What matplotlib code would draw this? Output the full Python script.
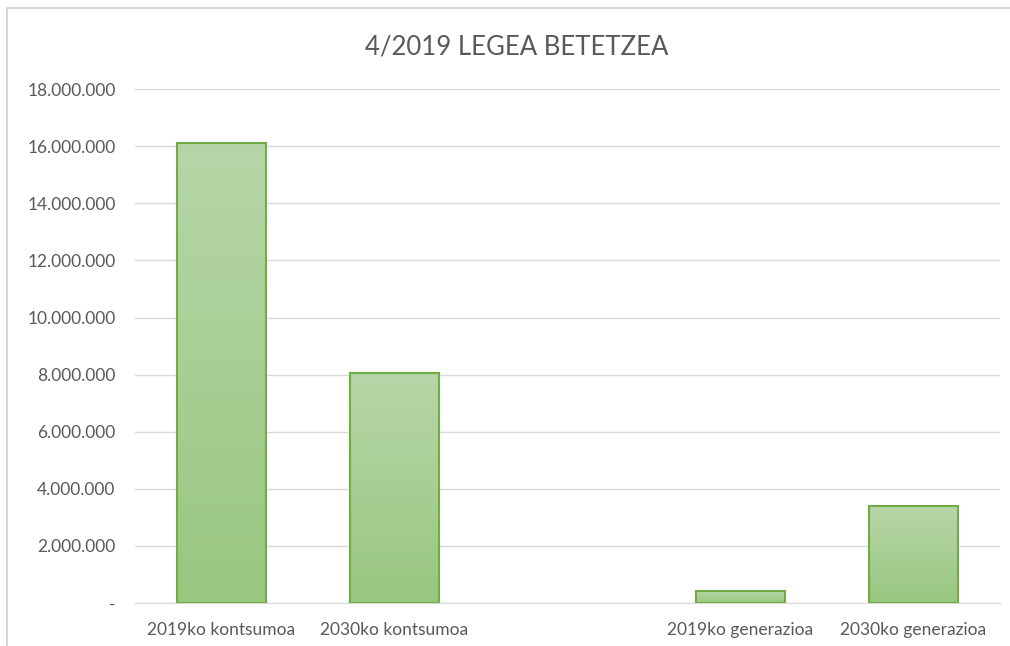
import matplotlib
matplotlib.use('Agg')
import matplotlib.pyplot as plt
import numpy as np
from matplotlib.patches import Rectangle
from matplotlib.ticker import FuncFormatter
from matplotlib.colors import LinearSegmentedColormap

# datuak
categories = ['2019ko kontsumoa', '2030ko kontsumoa', '', '2019ko generazioa', '2030ko generazioa']
values = [16100000, 8050000, 0, 420000, 3400000]
yticks = [0, 2000000, 4000000, 6000000, 8000000, 10000000, 12000000, 14000000, 16000000, 18000000]
title = '4/2019 LEGEA BETETZEA'

plt.rcParams['font.family'] = ['Lato', 'DejaVu Sans']

fig = plt.figure(figsize=(10.1, 6.46), dpi=100)
ax = fig.add_axes([0.1337, 0.0666, 0.8563, 0.7954])

# kanpoko markoa
fig.patches.append(Rectangle((7 / 1010, -0.1), 1.2, 1 - 8 / 646 + 0.1, transform=fig.transFigure,
                             fill=False, edgecolor='#d0d0d0', linewidth=1.2))

x = np.arange(len(categories))
width = 0.51
cmap = LinearSegmentedColormap.from_list('g', ['#98c77f', '#b7d6a8'])
grad = np.linspace(0, 1, 256).reshape(-1, 1)

for xi, v in zip(x, values):
    if v <= 0:
        continue
    ax.imshow(grad, extent=(xi - width / 2, xi + width / 2, 0, v), origin='lower',
              cmap=cmap, aspect='auto', zorder=2)
    ax.add_patch(Rectangle((xi - width / 2, 0), width, v, fill=False,
                           edgecolor='#70ad47', linewidth=1.5, zorder=3))

ax.set_xlim(-0.5, len(categories) - 0.5)
ax.set_ylim(0, 18000000)
ax.set_yticks(yticks)

def fmt(val, pos):
    if val == 0:
        return '-'
    return f'{int(val):,}'.replace(',', '.')

ax.yaxis.set_major_formatter(FuncFormatter(fmt))
ax.set_xticks(x)
ax.set_xticklabels(categories)
ax.tick_params(axis='both', length=0, labelsize=12.5, colors='#595959')
ax.tick_params(axis='y', pad=14)
ax.tick_params(axis='x', pad=14)

ax.grid(axis='y', color='#d9d9d9', linewidth=1)
ax.set_axisbelow(True)
for s in ['top', 'right', 'left']:
    ax.spines[s].set_visible(False)
ax.spines['bottom'].set_color('#d9d9d9')

fig.text(0.512, 0.928, title, ha='center', va='center', fontsize=18.5, color='#595959')

plt.savefig('out.png', dpi=100)
